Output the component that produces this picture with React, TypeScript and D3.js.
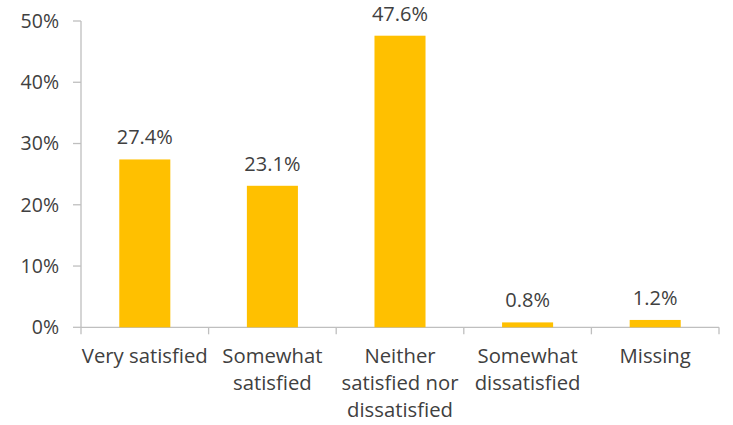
import React from "react";
import * as d3 from "d3";

const categories: string[][] = [
  ["Very satisfied"],
  ["Somewhat", "satisfied"],
  ["Neither", "satisfied nor", "dissatisfied"],
  ["Somewhat", "dissatisfied"],
  ["Missing"],
];
const values: number[] = [27.4, 23.1, 47.6, 0.8, 1.2];
const yTicks: number[] = [0, 10, 20, 30, 40, 50];

export default function App() {
  const W = 733, H = 425;
  const left = 81, right = 719, top = 21, bottom = 327.3;
  const x = d3.scaleBand<number>().domain(values.map((_, i) => i)).range([left, right]).paddingInner(0.6).paddingOuter(0.3);
  const xb = d3.scaleBand<number>().domain(values.map((_, i) => i)).range([left, right]);
  const y = d3.scaleLinear().domain([0, 50]).range([bottom, top]);
  const font = "'Open Sans', sans-serif";
  const textCol = "#404040";
  const axisCol = "#bfbfbf";
  return (
    <svg width={W} height={H} style={{ position: "absolute", left: 0, top: 0 }} fontFamily={font}>
      {/* y axis */}
      <line x1={left} x2={left} y1={top} y2={bottom + 7} stroke={axisCol} strokeWidth={1.3} />
      {yTicks.map((t) => (
        <g key={t}>
          <line x1={left - 8} x2={left} y1={y(t)} y2={y(t)} stroke={axisCol} strokeWidth={1.3} />
          <text x={59} y={y(t)} dy="0.35em" textAnchor="end" fontSize={19.5} fill={textCol}>
            {t}%
          </text>
        </g>
      ))}
      {/* x axis */}
      <line x1={left} x2={right} y1={bottom} y2={bottom} stroke={axisCol} strokeWidth={1.3} />
      {values.map((_, i) => (
        <line key={i} x1={xb(i)! + xb.bandwidth()} x2={xb(i)! + xb.bandwidth()} y1={bottom} y2={bottom + 7} stroke={axisCol} strokeWidth={1.3} />
      ))}
      {/* bars */}
      {values.map((v, i) => (
        <rect key={i} x={x(i)} y={y(v)} width={x.bandwidth()} height={bottom - y(v)} fill="#FFC000" />
      ))}
      {/* value labels */}
      {values.map((v, i) => (
        <text key={i} x={x(i)! + x.bandwidth() / 2} y={y(v) - 15} textAnchor="middle" fontSize={20} fill={textCol}>
          {v.toFixed(1)}%
        </text>
      ))}
      {/* category labels */}
      {categories.map((lines, i) => (
        <text key={i} x={xb(i)! + xb.bandwidth() / 2} y={363} textAnchor="middle" fontSize={20.3} fill={textCol}>
          {lines.map((l, j) => (
            <tspan key={j} x={xb(i)! + xb.bandwidth() / 2} dy={j === 0 ? 0 : 27}>
              {l}
            </tspan>
          ))}
        </text>
      ))}
    </svg>
  );
}
